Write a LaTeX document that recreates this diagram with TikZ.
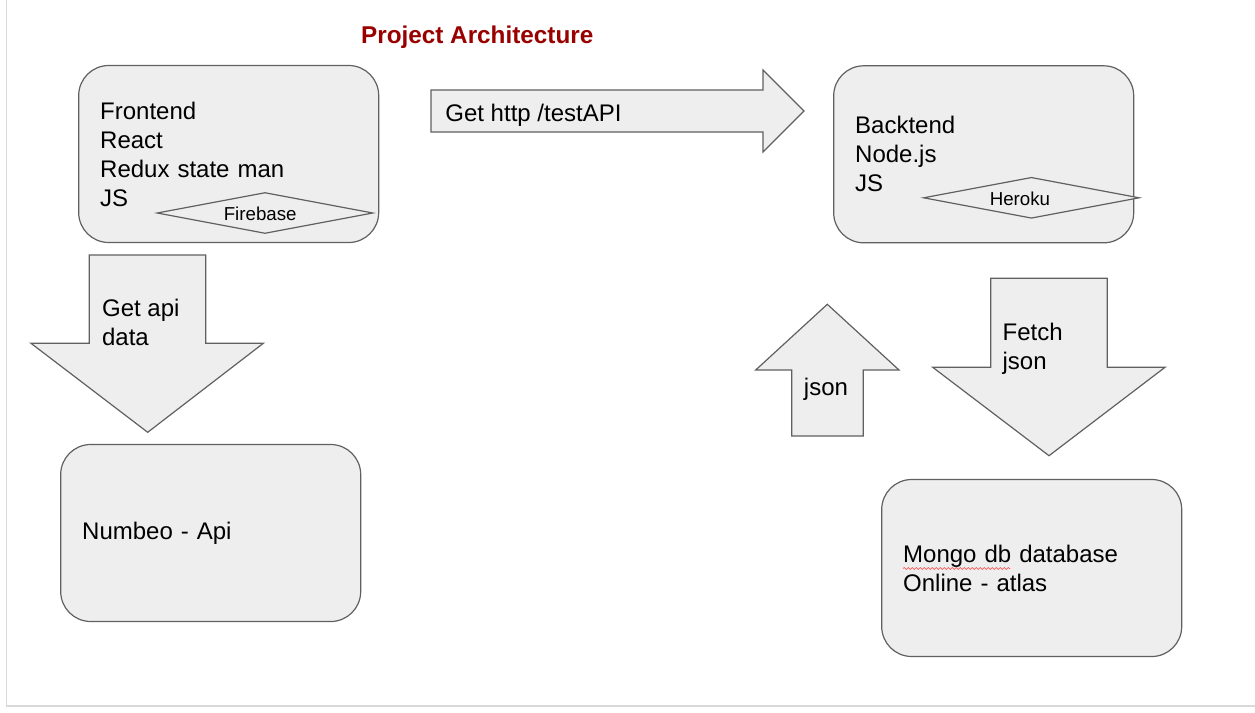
\documentclass[tikz,border=0pt]{standalone}
\usepackage{fontspec}
\setmainfont{Liberation Sans}
\usetikzlibrary{shapes.geometric, decorations.pathmorphing}
\definecolor{boxfill}{HTML}{EEEEEE}
\definecolor{boxline}{HTML}{606060}
\definecolor{titlered}{HTML}{990000}
\definecolor{pageline}{HTML}{D9D9D9}
\begin{document}
\begin{tikzpicture}[x=1pt, y=-1pt, line width=1.2pt,
    box/.style = {draw=boxline, fill=boxfill, rounded corners=30pt, minimum width=300pt, minimum height=177pt, text width=257pt, inner xsep=21.5pt, inner ysep=0pt, align=left, font=\fontsize{24}{29}\selectfont},
    host/.style = {draw=boxline, fill=boxfill, diamond, minimum width=216pt, minimum height=41pt, inner sep=0pt},
    block/.style = {draw=boxline, fill=boxfill, line join=miter},
    big/.style = {inner sep=0pt, align=left, font=\fontsize{24}{29}\selectfont},
    small/.style = {inner sep=0pt, anchor=base west, font=\fontsize{18.7}{22}\selectfont}]
    \useasboundingbox (0,0) rectangle (1255,712);
    \draw[pageline, line width=1.5pt] (6.5,0) -- (6.5,706) -- (1255,706);
    \node[inner sep=0pt, anchor=base west, text=titlered, font=\fontsize{24.3}{29}\selectfont\bfseries] (title) at (360.5,43.3) {Project Architecture};
    \node[box] (front) at (228.7,154) {Frontend\\React\\Redux state man\\JS};
    \node[box] (back) at (983.7,154.3) {Backtend\\Node.js\\JS};
    \node[box] (numbeo) at (210.7,533) {Numbeo - Api};
    \node[box] (mongo) at (1031.7,568) {Mongo db database\\Online - atlas};
    \draw[red!75, line width=0.6pt, decorate, decoration={snake, amplitude=1pt, segment length=4pt}] (903,568.5) -- (1010,568.5);
    \node[host] (firebase) at (265,213) {};
    \node[small] (firebasetext) at (223.2,220) {Firebase};
    \node[host] (heroku) at (1031.4,197.8) {};
    \node[small] (herokutext) at (989.2,205.7) {Heroku};
    \draw[block] (431,90) -- (763,90) -- (763,70) -- (804,111) -- (763,152) -- (763,132) -- (431,132) -- cycle;
    \draw[block] (89.3,255) -- (205.7,255) -- (205.7,343.3) -- (263.3,343.3) -- (147.7,432.3) -- (31,343.3) -- (89.3,343.3) -- cycle;
    \draw[block] (827.3,304.3) -- (899,370) -- (863.3,370) -- (863.3,436) -- (791.7,436) -- (791.7,370) -- (755.7,370) -- cycle;
    \draw[block] (990.7,278.3) -- (1107.3,278.3) -- (1107.3,367.3) -- (1165,367.3) -- (1049,455.7) -- (932.7,367.3) -- (990.7,367.3) -- cycle;
    \node[big, anchor=base west] (gethttp) at (444.8,121) {Get http /testAPI};
    \node[big, anchor=north west] (getapi) at (101.5,298.7) {Get api\\data};
    \node[big, anchor=base] (json) at (826,395) {json};
    \node[big, anchor=north west] (fetch) at (1002,323) {Fetch\\json};
\end{tikzpicture}
\end{document}
